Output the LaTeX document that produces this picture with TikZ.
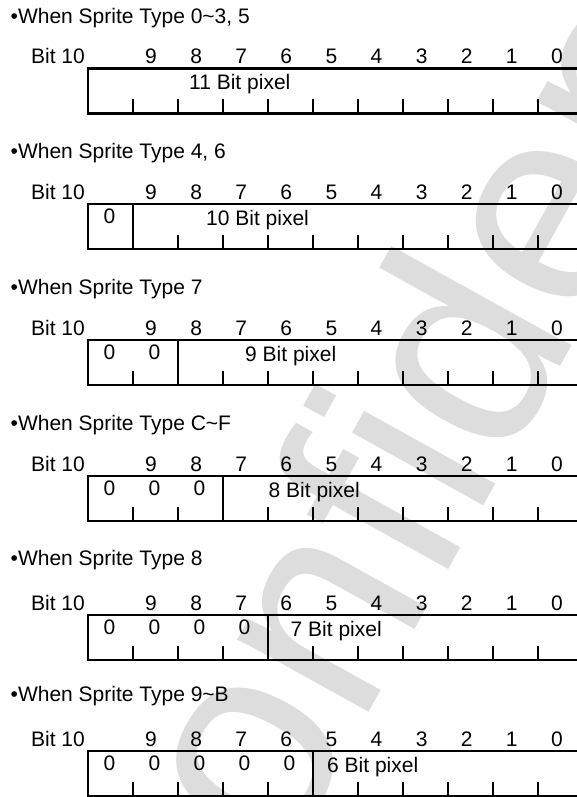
\documentclass[tikz,border=0pt]{standalone}
\usepackage{fontspec}
\setmainfont{Liberation Sans}
\definecolor{stampgray}{HTML}{DDDDDD}

\begin{document}
\begin{tikzpicture}[x=1pt,y=-1pt,
    reg/.style={line width=2.7pt},
    txt/.style={font=\fontsize{21}{24}\selectfont,inner sep=0pt,anchor=base}]
  \useasboundingbox (0,0) rectangle (577,797);
  \clip (0,0) rectangle (577,797);
  \node[rotate=61,anchor=base west,inner sep=0pt,text=stampgray,
        font=\fontsize{284}{284}\selectfont] (stamp) at (214,992) {confidential};
  \foreach \ytop/\nz/\kind/\tb/\px/\nbit [count=\row] in
      {68.5/0/{0\textasciitilde3, 5}/23.5/189/11,
       204/1/{4, 6}/158.3/206/10,
       340/2/{7}/294/245/9,
       476/3/{C\textasciitilde F}/430/268.5/8,
       615/4/{8}/565.7/290.5/7,
       751/5/{9\textasciitilde B}/701.5/327/6}{
    \node[txt,anchor=base west] (title\row) at (10.5,\tb) {\textbullet When Sprite Type \kind};
    \node[txt,anchor=base east] (msb\row) at (85,{\ytop-5}) {Bit 10};
    \foreach \k in {0,...,9}
      \node[txt] (b\row-\k) at ({151+45.1*(9-\k)},{\ytop-5}) {\k};
    \draw[reg] (583,\ytop) -- (88,\ytop) -- (88,{\ytop+45}) -- (583,{\ytop+45});
    \ifnum\nz>0
      \draw[reg] ({88+45*\nz},\ytop) -- ({88+45*\nz},{\ytop+45});
      \foreach \j in {1,...,\nz}
        \node[txt] (z\row-\j) at ({64.5+45*\j},{\ytop+19.5}) {0};
    \fi
    \foreach \i in {1,...,10}{
      \ifnum\i=\nz\else \draw[reg] ({88+45*\i},{\ytop+45}) -- ++(0,-14); \fi
    }
    \node[txt,anchor=base west] (pix\row) at (\px,{\ytop+21}) {\nbit\ Bit pixel};
  }
\end{tikzpicture}
\end{document}
